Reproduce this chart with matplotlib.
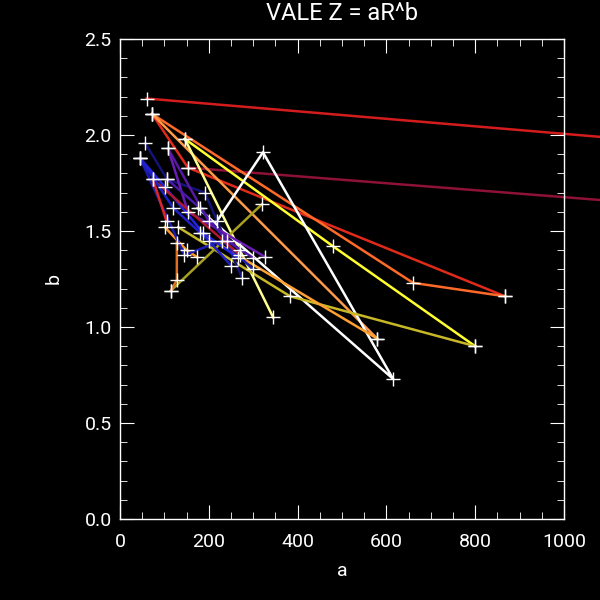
import matplotlib
matplotlib.use("Agg")
import matplotlib.pyplot as plt
from matplotlib.ticker import MultipleLocator

plt.rcParams['font.family'] = ['Roboto', 'DejaVu Sans']

# one entry per traced curve: colour, a values, b values
colors = ['#d41c1c', '#e02a1a', '#8e1238', '#ff6a28', '#ff9a48', '#ffff30',
          '#ffff90', '#ffffff', '#c8b828', '#a8a020', '#ff9628', '#ffa030',
          '#141478', '#2424e0', '#1c1cb0', '#6a1cb4', '#5818a0', '#b01830',
          '#e02424', '#e07020', '#2020c8', '#4a18a8']
a_vals = [
    [60, 1200],
    [72, 153, 867],
    [153, 1200],
    [72, 660, 867],
    [72, 579],
    [146, 480, 800],
    [146, 345],
    [218, 322, 615, 175],
    [131, 383, 800],
    [115, 320],
    [101, 150, 173],
    [180, 579],
    [56, 106, 191, 275],
    [45, 101, 187, 266],
    [45, 145, 230, 300],
    [108, 153, 327],
    [108, 200, 270],
    [74, 270],
    [74, 105],
    [128, 128, 115],
    [45, 120, 200, 250],
    [106, 180, 240, 300],
]
b_vals = [
    [2.19, 1.967],
    [2.11, 1.83, 1.16],
    [1.83, 1.64],
    [2.11, 1.23, 1.16],
    [2.11, 0.94],
    [1.98, 1.42, 0.90],
    [1.98, 1.05],
    [1.55, 1.91, 0.73, 1.62],
    [1.52, 1.16, 0.90],
    [1.19, 1.64],
    [1.52, 1.40, 1.365],
    [1.49, 0.94],
    [1.96, 1.77, 1.70, 1.255],
    [1.88, 1.73, 1.49, 1.36],
    [1.88, 1.375, 1.45, 1.30],
    [1.93, 1.60, 1.365],
    [1.93, 1.55, 1.40],
    [1.77, 1.375],
    [1.77, 1.55],
    [1.44, 1.245, 1.19],
    [1.88, 1.62, 1.45, 1.32],
    [1.77, 1.62, 1.45, 1.36],
]

fig = plt.figure(figsize=(6, 6), dpi=100, facecolor='black')
ax = fig.add_axes([0.2, 0.135, 0.74, 0.8])
ax.set_facecolor('black')

for c, xs, ys in zip(colors, a_vals, b_vals):
    ax.plot(xs, ys, color=c, lw=1.8, clip_on=False, zorder=2)
for xs, ys in zip(a_vals, b_vals):
    ax.plot(xs, ys, ls='none', marker='+', ms=10, mew=1, color='white',
            clip_on=False, zorder=3)

ax.set_xlim(0, 1000)
ax.set_ylim(0, 2.5)
ax.xaxis.set_major_locator(MultipleLocator(200))
ax.xaxis.set_minor_locator(MultipleLocator(50))
ax.yaxis.set_major_locator(MultipleLocator(0.5))
ax.yaxis.set_minor_locator(MultipleLocator(0.1))
ax.yaxis.set_major_formatter(lambda v, p: f"{v:.1f}")

for s in ax.spines.values():
    s.set_color('white')
    s.set_linewidth(1)
ax.tick_params(which='both', direction='in', top=True, right=True,
               colors='white', labelsize=14)
ax.tick_params(which='major', length=10, pad=10)
ax.tick_params(axis='y', which='major', pad=6)
ax.tick_params(which='minor', length=5)

ax.set_title('VALE Z = aR^b', color='white', fontsize=17, pad=14)
ax.set_xlabel('a', color='white', fontsize=14, labelpad=8)
ax.set_ylabel('b', color='white', fontsize=14, labelpad=16)

fig.savefig('out.png', dpi=100, facecolor='black')
